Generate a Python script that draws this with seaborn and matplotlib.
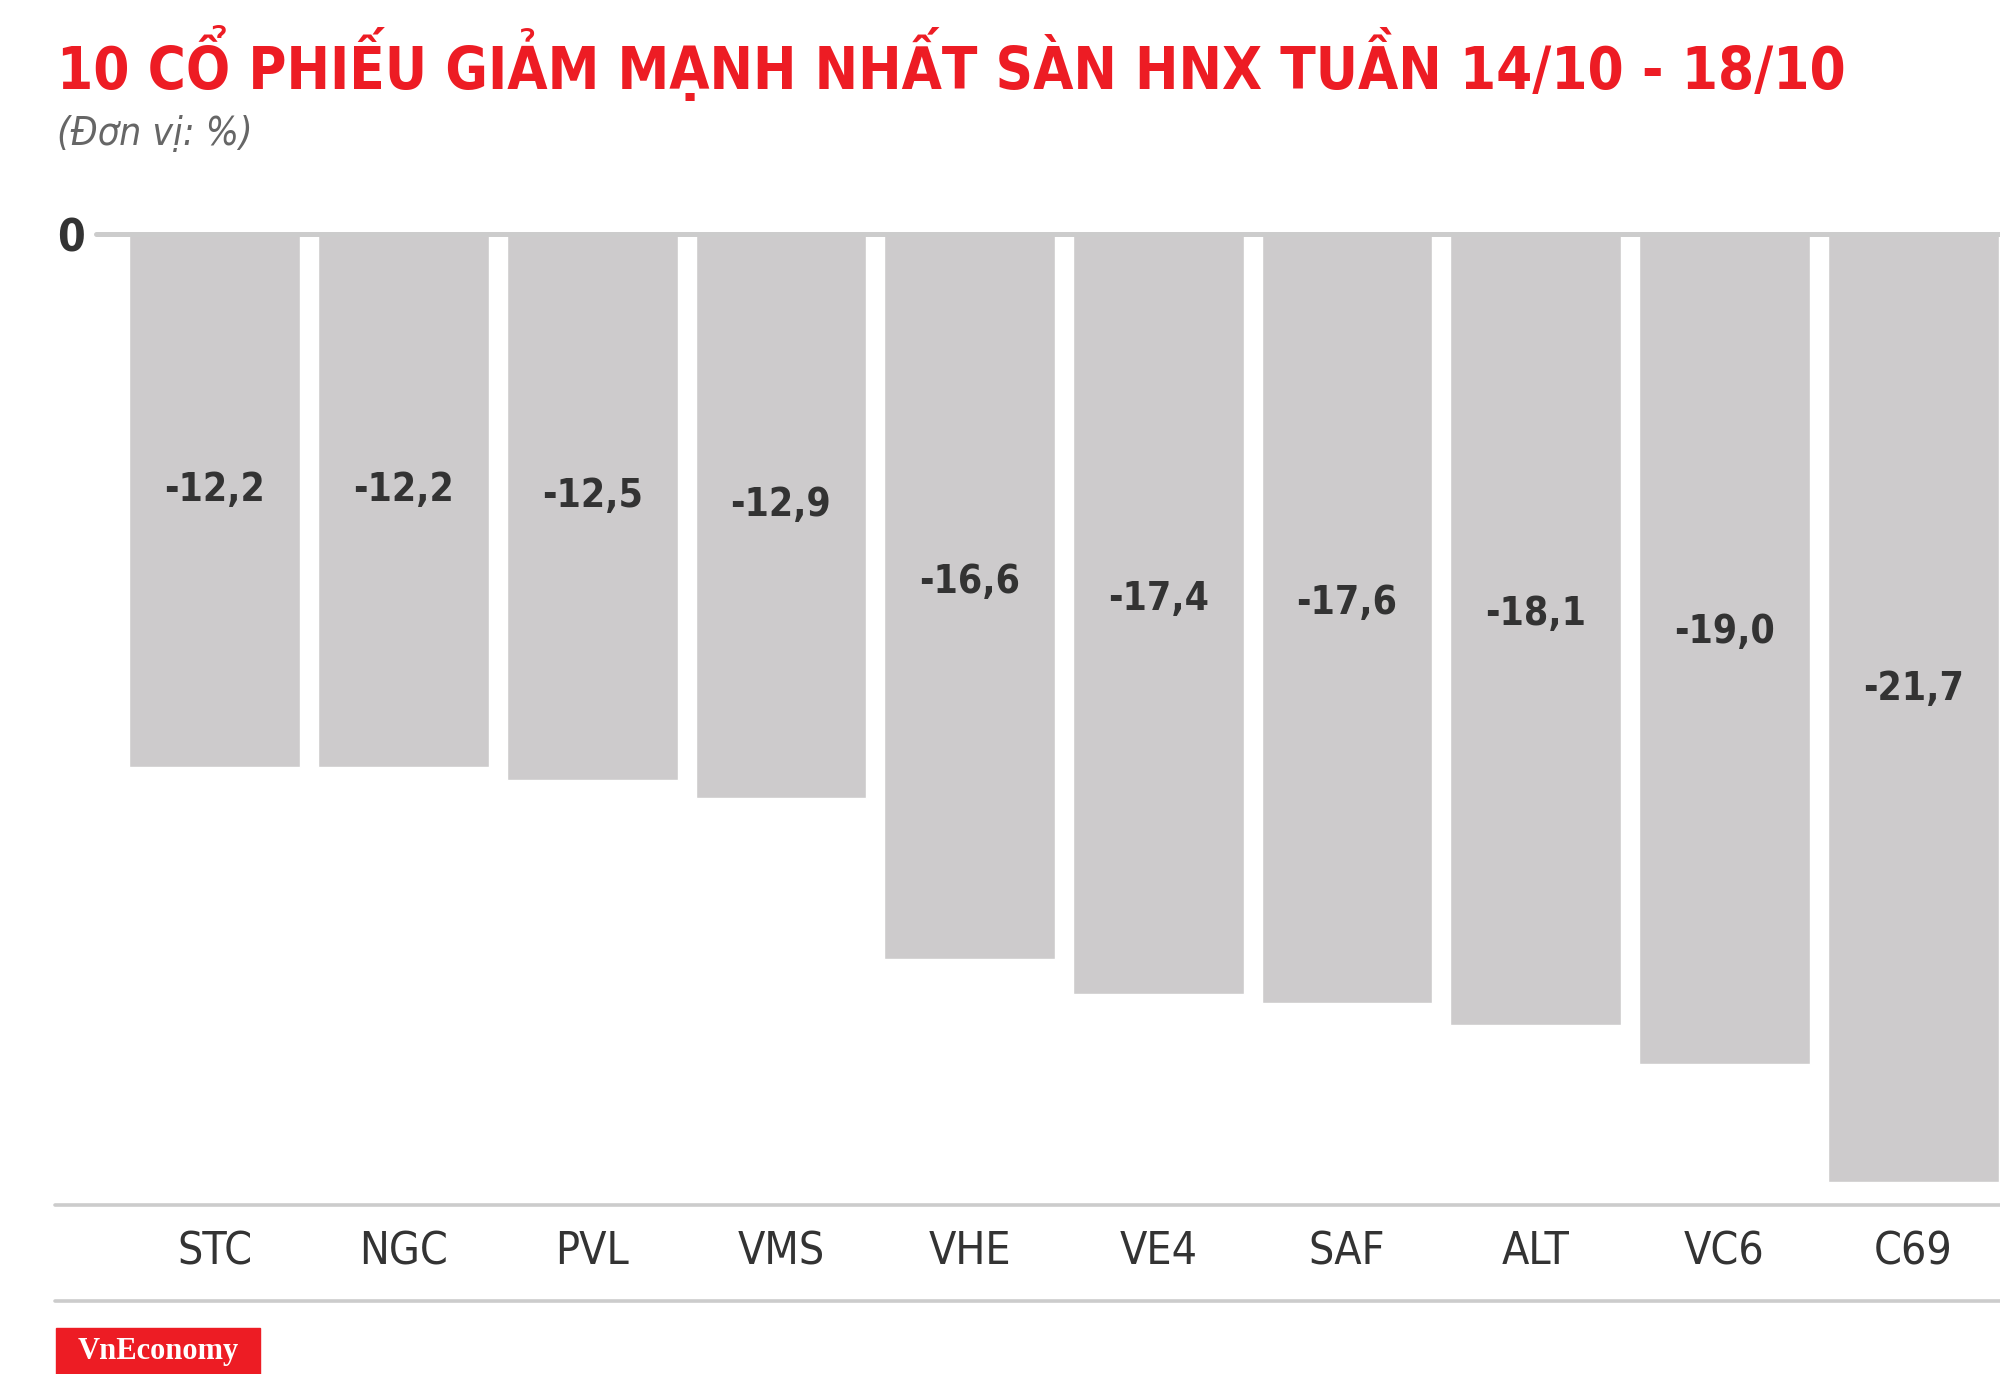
import matplotlib
matplotlib.use("Agg")
import matplotlib.pyplot as plt
from matplotlib.lines import Line2D
from matplotlib.patches import Rectangle
import seaborn as sns

# data
tickers = ["STC", "NGC", "PVL", "VMS", "VHE", "VE4", "SAF", "ALT", "VC6", "C69"]
changes = [-12.2, -12.2, -12.5, -12.9, -16.6, -17.4, -17.6, -18.1, -19.0, -21.7]

title = "10 CỔ PHIẾU GIẢM MẠNH NHẤT SÀN HNX TUẦN 14/10 - 18/10"
unit = "(Đơn vị: %)"

RED = "#ED1C24"
BAR = "#CDCBCC"
DARK = "#333333"
LINE = "#CCCCCC"

sns.set_theme(style="white")
plt.rcParams["font.family"] = ["DejaVu Sans"]
plt.rcParams["font.stretch"] = "condensed"

W, H = 2000, 1374
fig = plt.figure(figsize=(W / 100, H / 100), dpi=100)
ax = fig.add_axes([96 / W, 1 - 1204 / H, 1 - 96 / W, (1204 - 234) / H])

sns.barplot(x=tickers, y=changes, color=BAR, width=0.905, saturation=1, ax=ax)

ax.set_xlim(-0.63, 9.46)
ax.set_ylim(-22.2, 0)
for s in ax.spines.values():
    s.set_visible(False)
ax.axhline(0, color=LINE, lw=3.6, clip_on=False, zorder=5)

# value labels inside bars
for i, v in enumerate(changes):
    ax.text(i, v * 0.48, f"{v:.1f}".replace(".", ","), ha="center", va="center",
            fontsize=28, fontweight="bold", color=DARK, fontstretch="condensed")

ax.set_yticks([0])
ax.set_yticklabels(["0"], fontsize=32, fontweight="bold", color=DARK)
ax.tick_params(axis="y", length=0, pad=8)
ax.tick_params(axis="x", length=0, pad=19, labelsize=32, labelcolor=DARK)
ax.set_xlabel("")
ax.set_ylabel("")

# separator lines
for yy in (1205, 1301):
    fig.add_artist(Line2D([55 / W, 1], [1 - yy / H] * 2, color=LINE, lw=2.6))

fig.text(57 / W, 1 - 89 / H, title, color=RED, fontsize=41.7, fontweight="bold",
         va="baseline", ha="left")
fig.text(57 / W, 1 - 145 / H, unit, color="#666666", fontsize=28, style="italic",
         va="baseline", ha="left")

# logo
fig.add_artist(Rectangle((56 / W, 0), 204 / W, 46 / H, color=RED, transform=fig.transFigure))
fig.text(158 / W, 23 / H, "VnEconomy", color="white", fontsize=22, fontweight="bold",
         family="Liberation Serif", ha="center", va="center")

fig.savefig("out.png", dpi=100)
